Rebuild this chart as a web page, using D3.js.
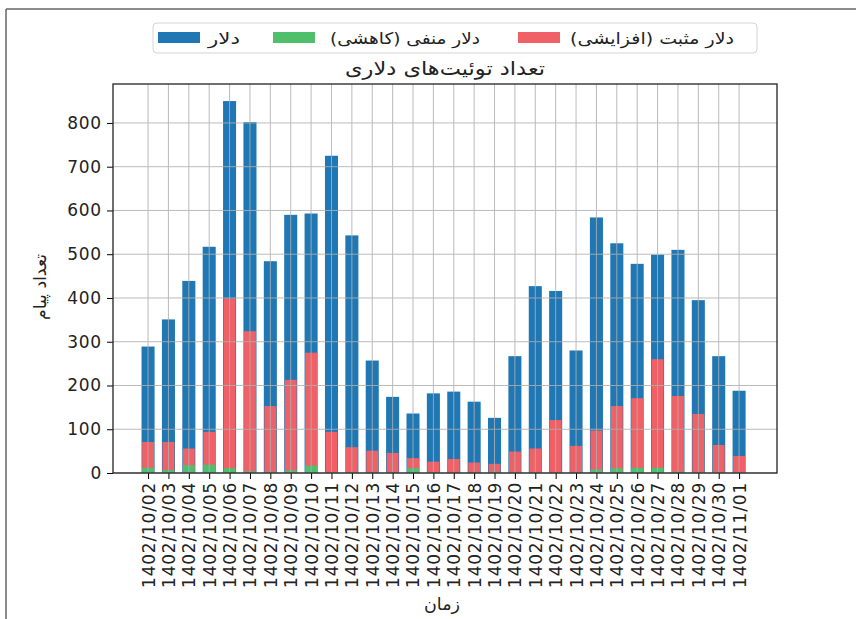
<!DOCTYPE html>
<html>
<head>
<meta charset="utf-8">
<script src="https://cdn.jsdelivr.net/npm/d3@7"></script>
<style>
  body { margin: 0; background: #fff; }
  text { font-family: "DejaVu Sans", sans-serif; fill: #222; }
</style>
</head>
<body>
<script>
var w = 856,
    h = 619;

var dates = ["1402/10/02", "1402/10/03", "1402/10/04", "1402/10/05", "1402/10/06",
  "1402/10/07", "1402/10/08", "1402/10/09", "1402/10/10", "1402/10/11",
  "1402/10/12", "1402/10/13", "1402/10/14", "1402/10/15", "1402/10/16",
  "1402/10/17", "1402/10/18", "1402/10/19", "1402/10/20", "1402/10/21",
  "1402/10/22", "1402/10/23", "1402/10/24", "1402/10/25", "1402/10/26",
  "1402/10/27", "1402/10/28", "1402/10/29", "1402/10/30", "1402/11/01"];

var total    = [289, 351, 439, 517, 850, 802, 484, 590, 593, 725, 543, 257, 174, 136, 182,
                186, 163, 126, 267, 427, 416, 280, 584, 525, 478, 499, 510, 395, 267, 188];
var positive = [71, 71, 56, 94, 399, 324, 153, 213, 275, 94, 59, 51, 46, 34, 26,
                32, 24, 21, 49, 56, 121, 62, 97, 153, 171, 260, 176, 135, 64, 39];
var negative = [12, 7, 18, 19, 11, 4, 3, 6, 17, 2, 2, 2, 2, 11, 2,
                1, 1, 3, 2, 2, 1, 2, 8, 11, 12, 12, 3, 2, 2, 1];

var yTicks = [0, 100, 200, 300, 400, 500, 600, 700, 800];

var labels = {
  total: "دلار",
  negative: "دلار منفی (کاهشی)",
  positive: "دلار مثبت (افزایشی)",
  title: "تعداد توئیت‌های دلاری",
  xAxis: "زمان",
  yAxis: "تعداد پیام"
};

var colors = { total: "#1f77b4", positive: "#ef6166", negative: "#4fbf6c" };

var pLeft = 113, pRight = 777, pTop = 84, pBottom = 473;

var svg = d3.select("body").append("svg")
    .attr("width", w)
    .attr("height", h);

// frame round the figure (only top and left are visible)
svg.append("line").attr("x1", 6).attr("y1", 9).attr("x2", w).attr("y2", 9)
    .attr("stroke", "#666").attr("stroke-width", 1.5);
svg.append("line").attr("x1", 6).attr("y1", 9).attr("x2", 6).attr("y2", h)
    .attr("stroke", "#666").attr("stroke-width", 1.5);

var x = d3.scaleLinear().domain([-1.72, 30.86]).range([pLeft, pRight]);
var y = d3.scaleLinear().domain([0, 889]).range([pBottom, pTop]);

var step = x(1) - x(0);

function bars(data, cls, color, frac) {
  svg.selectAll("rect." + cls)
      .data(data)
      .enter()
      .append("rect")
      .attr("class", cls)
      .attr("x", function(d, i) { return x(i) - step * frac / 2; })
      .attr("width", step * frac)
      .attr("y", function(d) { return y(d); })
      .attr("height", function(d) { return y(0) - y(d); })
      .attr("fill", color);
}

bars(total, "total", colors.total, 0.64);
bars(positive, "positive", colors.positive, 0.58);
bars(negative, "negative", colors.negative, 0.58);

// grid drawn over the bars
var grid = svg.append("g").attr("stroke", "#b0b0b0").attr("stroke-width", 1).attr("opacity", 0.85);
grid.selectAll("line.gx")
    .data(dates)
    .enter()
    .append("line")
    .attr("class", "gx")
    .attr("x1", function(d, i) { return x(i); })
    .attr("x2", function(d, i) { return x(i); })
    .attr("y1", pTop)
    .attr("y2", pBottom);
grid.selectAll("line.gy")
    .data(yTicks)
    .enter()
    .append("line")
    .attr("class", "gy")
    .attr("x1", pLeft)
    .attr("x2", pRight)
    .attr("y1", function(d) { return y(d); })
    .attr("y2", function(d) { return y(d); });

// axes
var yAxis = d3.axisLeft(y).tickValues(yTicks).tickSize(6).tickPadding(5);
var gy = svg.append("g").attr("transform", "translate(" + pLeft + ",0)").call(yAxis);
gy.select(".domain").remove();
gy.selectAll("text")
    .style("font-family", "DejaVu Sans")
    .style("font-size", "17px")
    .style("letter-spacing", "0.8px")
    .attr("fill", "#222");

var xAxis = d3.axisBottom(x).tickValues(d3.range(dates.length))
    .tickFormat(function(i) { return dates[i]; })
    .tickSize(6).tickPadding(0);
var gx = svg.append("g").attr("transform", "translate(0," + pBottom + ")").call(xAxis);
gx.select(".domain").remove();
gx.selectAll("text")
    .style("font-family", "DejaVu Sans")
    .style("font-size", "17px")
    .style("letter-spacing", "0.8px")
    .attr("fill", "#222")
    .attr("text-anchor", "end")
    .attr("dy", "0.35em")
    .attr("transform", "translate(0,9) rotate(-90)")
    .attr("x", 0)
    .attr("y", 0);

svg.append("rect")
    .attr("x", pLeft).attr("y", pTop)
    .attr("width", pRight - pLeft).attr("height", pBottom - pTop)
    .attr("fill", "none").attr("stroke", "#222").attr("stroke-width", 1.3);

// persian text is drawn a little wider than DejaVu gives, so stretch it
function rtlText(sel, str, size, len) {
  return sel.append("text")
      .attr("text-anchor", "middle")
      .style("direction", "rtl")
      .style("font-size", size + "px")
      .attr("textLength", len)
      .attr("lengthAdjust", "spacingAndGlyphs")
      .text(str);
}

rtlText(svg, labels.title, 19, 200)
    .attr("x", (pLeft + pRight) / 2).attr("y", 75);

rtlText(svg, labels.xAxis, 17, 36)
    .attr("x", 442).attr("y", 610);

rtlText(svg, labels.yAxis, 17, 66)
    .attr("transform", "translate(46,287) rotate(-90)");

// legend
var legend = svg.append("g");
legend.append("rect")
    .attr("x", 153).attr("y", 23).attr("width", 604).attr("height", 30)
    .attr("rx", 4)
    .attr("fill", "#fff").attr("stroke", "#d4d4d4");

var items = [
  { key: "total", px: 158, tx: 224, len: 32 },
  { key: "negative", px: 273, tx: 405, len: 150 },
  { key: "positive", px: 518, tx: 652, len: 164 }
];

legend.selectAll("rect.patch")
    .data(items)
    .enter()
    .append("rect")
    .attr("class", "patch")
    .attr("x", function(d) { return d.px; })
    .attr("y", 32)
    .attr("width", 42)
    .attr("height", 11)
    .attr("fill", function(d) { return colors[d.key]; });

items.forEach(function(d) {
  rtlText(legend, labels[d.key], 16, d.len)
      .attr("x", d.tx).attr("y", 44);
});
</script>
</body>
</html>
